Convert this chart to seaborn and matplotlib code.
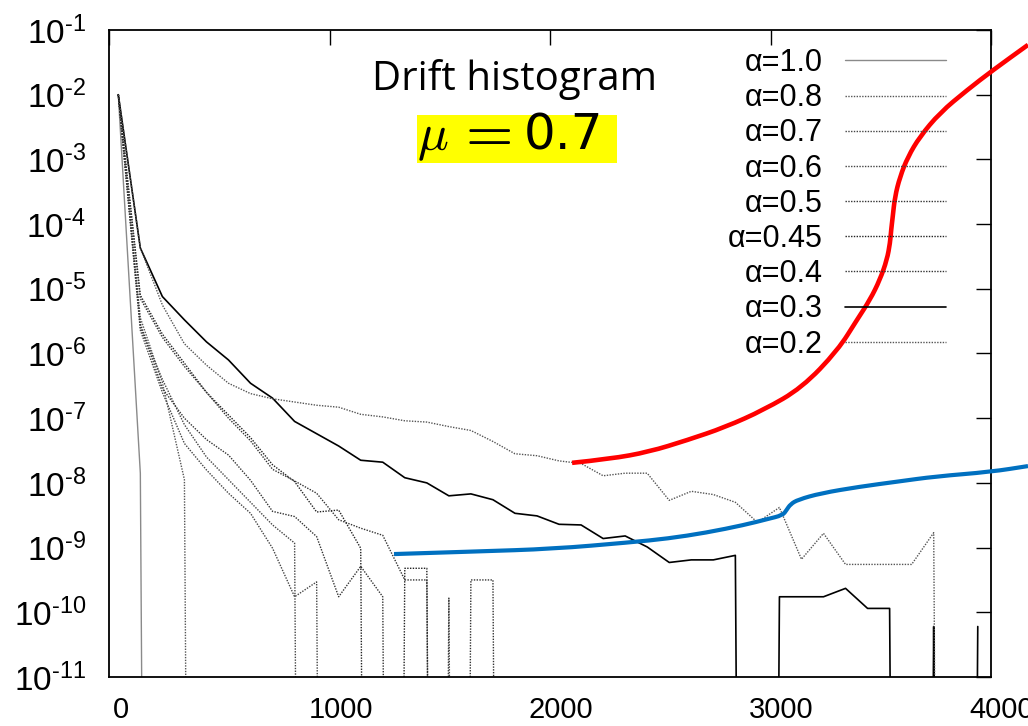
import numpy as np
import pandas as pd
import matplotlib
matplotlib.use("Agg")
import matplotlib.pyplot as plt
import seaborn as sns
from matplotlib.ticker import NullLocator, FixedLocator, FuncFormatter
from matplotlib.path import Path
from matplotlib.patches import PathPatch, Rectangle
from matplotlib.transforms import ScaledTranslation

sns.set_theme(style="white")
plt.rcParams["font.family"] = ["Liberation Sans", "DejaVu Sans"]
plt.rcParams["mathtext.fontset"] = "custom"
plt.rcParams["mathtext.rm"] = "Liberation Sans"
plt.rcParams["mathtext.it"] = "Liberation Sans:italic"
plt.rcParams["mathtext.bf"] = "Liberation Sans:bold"
plt.rcParams["text.color"] = "black"
plt.rcParams["xtick.color"] = "black"
plt.rcParams["ytick.color"] = "black"

# ---------------- data (log10 of histogram value, Z = empty bin) ----------------
Z = None
bin_x = [40 + 100 * k for k in range(40)]

log_a10 = [-2.0, -7.85] + [Z] * 38
log_a08 = [-2.0, -5.45, -6.45, -7.95] + [Z] * 36
log_a07 = [-2.0, -5.60, -6.40, -7.10, -7.60, -7.95, -8.30, -8.65, -8.93] + [Z] * 31
log_a06 = [-2.0, -5.64, -6.60, -7.39, -7.80, -8.16, -8.47, -9.01, -9.76, -9.53,
           Z, Z, Z, Z, Z, -9.78] + [Z] * 24
log_a05 = [-2.0, -5.54, -6.54, -7.00, -7.33, -7.57, -7.96, -8.44, -8.52, -8.83,
           -9.76, -9.29, -9.76, Z, Z, Z, -9.50, -9.50] + [Z] * 22
log_a045 = [-2.0, -5.10, -5.70, -6.15, -6.60, -6.95, -7.30, -7.72, -7.98, -8.45,
            -8.42, -9.01, Z, -9.32, -9.32] + [Z] * 25
log_a04 = [-2.0, -5.15, -5.75, -6.20, -6.60, -7.00, -7.35, -7.79, -7.97, -8.16,
           -8.57, -8.70, -8.81, -9.50, -9.50] + [Z] * 25
log_a03 = [-2.0, -4.37, -5.12, -5.48, -5.82, -6.10, -6.46, -6.69, -7.05, -7.24,
           -7.43, -7.65, -7.68, -7.92, -8.00, -8.20, -8.17, -8.26, -8.47, -8.51,
           -8.64, -8.65, -8.86, -8.82, -8.99, -9.23, -9.19, -9.19, -9.12, Z,
           -9.76, -9.76, -9.76, -9.63, -9.94, -9.94, Z, -10.22, Z, -10.22]
log_a02 = [-2.0, -4.37, -5.25, -5.85, -6.18, -6.46, -6.62, -6.70, -6.75, -6.80,
           -6.83, -6.94, -6.98, -7.04, -7.06, -7.13, -7.19, -7.36, -7.55, -7.58,
           -7.66, -7.70, -7.89, -7.85, -7.85, -8.27, -8.13, -8.18, -8.30, -8.61,
           -8.38, -9.18, -8.78, -9.26, -9.26, -9.26, -9.26, -8.77, Z, Z]

labels = ["α=1.0", "α=0.8", "α=0.7", "α=0.6", "α=0.5", "α=0.45", "α=0.4", "α=0.3", "α=0.2"]
series = [log_a10, log_a08, log_a07, log_a06, log_a05, log_a045, log_a04, log_a03, log_a02]

# hand-drawn annotation curves (x in data units, log10 y)
red_x = [2099, 2271, 2448, 2621, 2793, 2970, 3142, 3305, 3392, 3451, 3496, 3528,
         3542, 3547, 3554, 3564, 3587, 3623, 3677, 3768, 3891, 4009, 4168]
red_logy = [-7.69, -7.63, -7.52, -7.34, -7.14, -6.87, -6.53, -5.95, -5.48, -5.17,
            -4.86, -4.55, -4.29, -4.09, -3.89, -3.58, -3.27, -2.96, -2.65, -2.28,
            -1.93, -1.62, -1.23]
blue_x = [1291, 1665, 2012, 2360, 2534, 2707, 2881, 2985, 3055, 3072, 3090, 3124,
          3228, 3402, 3576, 3749, 3998, 4168]
blue_logy = [-9.10, -9.06, -9.02, -8.92, -8.86, -8.77, -8.65, -8.56, -8.50, -8.42,
             -8.33, -8.26, -8.16, -8.06, -7.98, -7.90, -7.83, -7.74]

x_ticks = [0, 1000, 2000, 3000, 4000]
y_exponents = list(range(-11, 0))

# ---------------- styles ----------------
dot = (0, (1, 1))
styles = {
    "α=1.0": dict(color="#8a8a8a", lw=1.0, ls="-"),
    "α=0.8": dict(color="#555555", lw=1.0, ls=dot),
    "α=0.7": dict(color="#444444", lw=1.0, ls=dot),
    "α=0.6": dict(color="#444444", lw=1.0, ls=dot),
    "α=0.5": dict(color="#333333", lw=1.0, ls=dot),
    "α=0.45": dict(color="#222222", lw=1.0, ls=dot),
    "α=0.4": dict(color="#333333", lw=1.0, ls=dot),
    "α=0.3": dict(color="#000000", lw=1.2, ls="-"),
    "α=0.2": dict(color="#555555", lw=1.0, ls=dot),
}

FLOOR = 1e-60  # empty bins drawn far below the axis

W, H = 1028, 726
fig = plt.figure(figsize=(W / 100, H / 100), dpi=100)
ax = fig.add_axes([0.1065, 0.0675, 0.8575, 0.8912])
ax.set_yscale("log")

frames = []
for lab, vals in zip(labels, series):
    y = [FLOOR if v is None else 10.0 ** v for v in vals]
    frames.append(pd.DataFrame({"x": bin_x, "y": y, "label": lab}))
df = pd.concat(frames, ignore_index=True)

handles = []
for lab in labels:
    st = styles[lab]
    sub = df[df["label"] == lab]
    sns.lineplot(data=sub, x="x", y="y", ax=ax, color=st["color"], linewidth=st["lw"],
                 linestyle=st["ls"], sort=False, estimator=None, label=lab, legend=False)
    handles.append(ax.lines[-1])


def smooth_curve(xs, logys, color, lw):
    pts = [(x, 10.0 ** v) for x, v in zip(xs, logys)]
    verts = [pts[0]]
    codes = [Path.MOVETO]
    for i in range(1, len(pts) - 1):
        mid = ((pts[i][0] + pts[i + 1][0]) / 2.0, np.sqrt(pts[i][1] * pts[i + 1][1]))
        verts += [pts[i], mid]
        codes += [Path.CURVE3, Path.CURVE3]
    verts.append(pts[-1])
    codes.append(Path.LINETO)
    patch = PathPatch(Path(verts, codes), fill=False, edgecolor=color, lw=lw,
                      transform=ax.transData, clip_on=False, zorder=5,
                      capstyle="butt", joinstyle="round")
    ax.add_patch(patch)


smooth_curve(red_x, red_logy, "#ff0000", 3.3)
smooth_curve(blue_x, blue_logy, "#0070c0", 3.0)

ax.set_xlim(0, 4000)
ax.set_ylim(1e-11, 1e-1)
ax.xaxis.set_major_locator(FixedLocator(x_ticks))
ax.yaxis.set_major_locator(FixedLocator([10.0 ** e for e in y_exponents]))
ax.yaxis.set_major_formatter(FuncFormatter(
    lambda v, pos: r"$\mathregular{10^{\text{-}%d}}$" % round(-np.log10(v))))
ax.yaxis.set_minor_locator(NullLocator())
ax.xaxis.set_minor_locator(NullLocator())
ax.set_xlabel("")
ax.set_ylabel("")
ax.tick_params(axis="both", which="major", direction="in", length=11, width=1.0,
               top=True, right=True, colors="black")
ax.tick_params(axis="y", pad=17, labelsize=24)
ax.tick_params(axis="x", pad=14, labelsize=21)
shift = ScaledTranslation(11 / 100, 0, fig.dpi_scale_trans)
for lbl in ax.get_xticklabels():
    lbl.set_transform(lbl.get_transform() + shift)
for sp in ax.spines.values():
    sp.set_color("black")
    sp.set_linewidth(1.3)
ax.grid(False)

ax.legend(handles, labels, loc="upper right", bbox_to_anchor=(946 / W, 1 - 48 / H),
          bbox_transform=fig.transFigure, frameon=False, markerfirst=False, fontsize=22,
          handlelength=3.3, handletextpad=0.75, labelspacing=0.17, borderpad=0,
          borderaxespad=0)

fig.text(515 / W, 1 - 80 / H, "Drift histogram", ha="center", va="center",
         fontsize=29, family="Open Sans", color="black")

# yellow highlighted formula
fig.patches.append(Rectangle((417 / W, 1 - 163 / H), 200 / W, 48 / H,
                             transform=fig.transFigure, facecolor="#ffff00",
                             edgecolor="none", zorder=0))
fig.text(433 / W, 1 - 150 / H, r"$\mu$", ha="center", va="baseline",
         fontsize=37, math_fontfamily="cm", color="black", zorder=2)
fig.text(483 / W, 1 - 150 / H, r"$=$", ha="center", va="baseline",
         fontsize=44, math_fontfamily="cm", color="black", zorder=2)
fig.text(524 / W, 1 - 150 / H, "0.7", ha="left", va="baseline",
         fontsize=36, family="DejaVu Sans", color="black", zorder=2)

fig.savefig("out.png", dpi=100)
